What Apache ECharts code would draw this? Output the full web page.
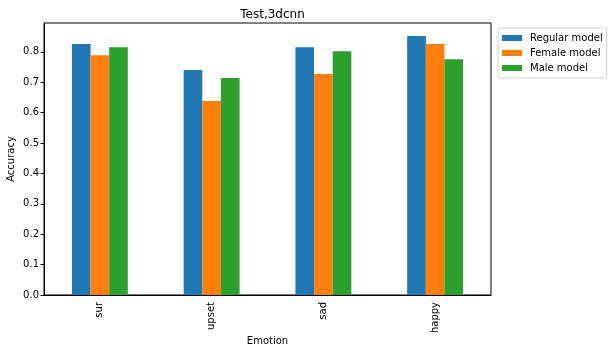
<!DOCTYPE html>
<html>
<head>
<meta charset="utf-8">
<script src="https://cdn.jsdelivr.net/npm/echarts@6/dist/echarts.min.js"></script>
<style>html,body{margin:0;padding:0;background:#fff}#c{width:613px;height:354px}</style>
</head>
<body>
<div id="c"></div>
<script>
const categories = ['sur', 'upset', 'sad', 'happy'];
const regularModel = [0.826, 0.740, 0.815, 0.852];
const femaleModel = [0.789, 0.638, 0.727, 0.826];
const maleModel = [0.815, 0.714, 0.802, 0.776];
const yTicks = [0, 0.1, 0.2, 0.3, 0.4, 0.5, 0.6, 0.7, 0.8];
const seriesNames = ['Regular model', 'Female model', 'Male model'];
const colors = ['#1f77b4', '#ff7f0e', '#2ca02c'];

const font = 'DejaVu Sans';
const chart = echarts.init(document.getElementById('c'), null, {renderer: 'canvas'});
const mk = (name, data, color) => ({
  name, type: 'bar', data, barWidth: '16.67%', barGap: '0%',
  itemStyle: {color}, emphasis: {disabled: true}
});
chart.setOption({
  animation: false,
  backgroundColor: '#fff',
  title: {
    text: 'Test,3dcnn', left: 267.5, top: 4, textAlign: 'center',
    textStyle: {fontFamily: font, fontSize: 12, fontWeight: 'normal', color: '#000'}
  },
  legend: {
    orient: 'vertical', left: 498, top: 28,
    data: seriesNames,
    itemWidth: 20, itemHeight: 6, itemGap: 5,
    padding: [5, 4, 5, 4],
    borderColor: '#d0d0d0', borderWidth: 1, borderRadius: 2,
    icon: 'rect',
    textStyle: {fontFamily: font, fontSize: 10, color: '#000', padding: [0, 0, 0, 3]}
  },
  grid: {
    left: 44, right: 122, top: 23, bottom: 59, show: true,
    borderColor: '#000', borderWidth: 1, containLabel: false,
    outerBoundsMode: 'none'
  },
  xAxis: {
    type: 'category', data: categories,
    name: 'Emotion', nameLocation: 'middle', nameGap: 41, nameMoveOverlap: false,
    nameTextStyle: {fontFamily: font, fontSize: 10, color: '#000'},
    axisLine: {lineStyle: {color: '#000'}},
    axisTick: {alignWithLabel: true, length: 3.5, lineStyle: {color: '#000'}},
    axisLabel: {rotate: 90, fontFamily: font, fontSize: 10, color: '#000', margin: 7}
  },
  yAxis: {
    type: 'value', min: 0, max: 0.895,
    name: 'Accuracy', nameLocation: 'middle', nameGap: 28, nameMoveOverlap: false,
    nameTextStyle: {fontFamily: font, fontSize: 10, color: '#000'},
    splitLine: {show: false},
    axisLine: {show: true, lineStyle: {color: '#000'}},
    axisTick: {show: true, length: 3.5, customValues: yTicks, lineStyle: {color: '#000'}},
    axisLabel: {customValues: yTicks, fontFamily: font, fontSize: 10, color: '#000', margin: 5,
      formatter: v => v.toFixed(1)}
  },
  series: [
    mk(seriesNames[0], regularModel, colors[0]),
    mk(seriesNames[1], femaleModel, colors[1]),
    mk(seriesNames[2], maleModel, colors[2])
  ]
});
</script>
</body>
</html>
